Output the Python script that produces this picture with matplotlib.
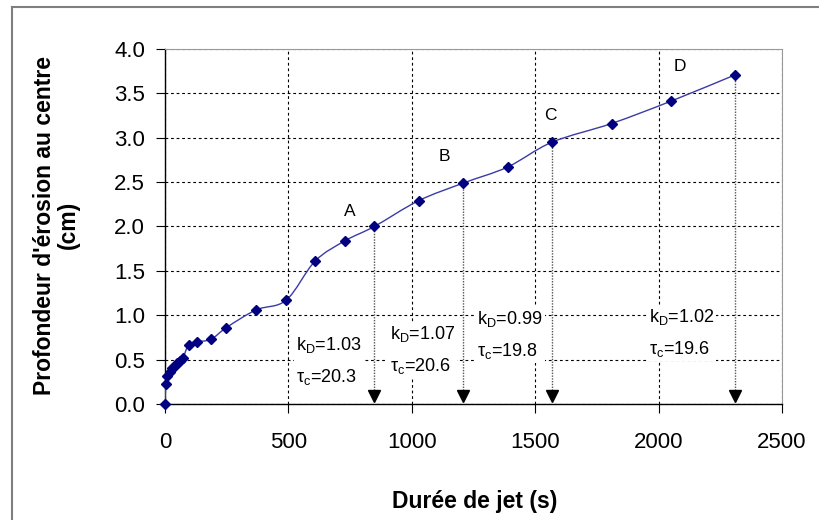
import matplotlib
matplotlib.use('Agg')
import matplotlib.pyplot as plt
from matplotlib.path import Path
from matplotlib.patches import PathPatch
from matplotlib.lines import Line2D
import numpy as np

plt.rcParams['font.family'] = ['Liberation Sans', 'DejaVu Sans']
plt.rcParams['mathtext.fontset'] = 'custom'
plt.rcParams['mathtext.rm'] = 'Liberation Sans'
plt.rcParams['mathtext.it'] = 'Liberation Sans'

# durée de jet (s) / profondeur d'érosion (cm)
duree = [0, 3, 9, 20, 30, 39, 50, 61, 73, 96, 128, 187, 248, 369, 491,
         608, 730, 848, 1027, 1209, 1388, 1568, 1809, 2048, 2311]
profondeur = [0, 0.22, 0.32, 0.36, 0.40, 0.43, 0.46, 0.49, 0.52, 0.67, 0.70,
              0.73, 0.86, 1.06, 1.17, 1.61, 1.84, 2.00, 2.29, 2.49, 2.67,
              2.95, 3.16, 3.41, 3.71]

# indices of the points marking the end of each test phase
fin_phase = [17, 19, 21, 24]
phase_lettres = ['A', 'B', 'C', 'D']
lettre_pos = [(750, 2.17), (1133, 2.79), (1561, 3.245), (2086, 3.80)]
kd = ['1.03', '1.07', '0.99', '1.02']
tau = ['20.3', '20.6', '19.8', '19.6']
param_pos = [(530, 0.48), (910, 0.61), (1266, 0.78), (1960, 0.80)]

xticks = [0, 500, 1000, 1500, 2000, 2500]
yticks = [0.0, 0.5, 1.0, 1.5, 2.0, 2.5, 3.0, 3.5, 4.0]

fig = plt.figure(figsize=(8.19, 5.20), dpi=100)
ax = fig.add_axes([0.2015, 0.2231, 0.7534, 0.6827])

ax.set_xlim(0, 2500)
ax.set_ylim(0, 4)
ax.set_xticks(xticks)
ax.set_yticks(yticks)
ax.set_yticklabels(['%.1f' % v for v in yticks])
ax.tick_params(labelsize=16, length=6.5, width=0.8, direction='out')
ax.tick_params(axis='x', pad=14)
ax.tick_params(axis='y', pad=8)
ax.grid(True, color='black', linestyle=(0, (2.5, 2.5)), linewidth=0.8)
ax.set_axisbelow(True)
for s in ['top', 'right']:
    ax.spines[s].set_color('#999999')
for s in ['left', 'bottom']:
    ax.spines[s].set_color('black')
    ax.spines[s].set_linewidth(1.0)

# smoothed line (Excel style bezier through the points)
x = np.array(duree, dtype=float)
y = np.array(profondeur, dtype=float)
verts = [(x[0], y[0])]
codes = [Path.MOVETO]
n = len(x)
for i in range(n - 1):
    p0 = np.array([x[max(i - 1, 0)], y[max(i - 1, 0)]])
    p1 = np.array([x[i], y[i]])
    p2 = np.array([x[i + 1], y[i + 1]])
    p3 = np.array([x[min(i + 2, n - 1)], y[min(i + 2, n - 1)]])
    c1 = p1 + (p2 - p0) / 6.0
    c2 = p2 - (p3 - p1) / 6.0
    verts += [tuple(c1), tuple(c2), tuple(p2)]
    codes += [Path.CURVE4] * 3
ax.add_patch(PathPatch(Path(verts, codes), facecolor='none',
                       edgecolor='#3a3aa8', linewidth=1.0, zorder=3))
ax.plot(duree, profondeur, linestyle='none', marker='D', markersize=5,
        color='#000080', zorder=4, clip_on=False)

# arrows down to the time axis
for i in fin_phase:
    ax.vlines(duree[i], 0.12, profondeur[i], colors='#555555',
              linestyles=(0, (1, 1)), linewidth=1.0, zorder=2)
    ax.plot(duree[i], 0.09, marker='v', markersize=8, color='black', zorder=3)

for lettre, (lx, ly) in zip(phase_lettres, lettre_pos):
    ax.text(lx, ly, lettre, fontsize=12.5, ha='center', va='center')

for k, t, (px, py) in zip(kd, tau, param_pos):
    ax.text(px, py, 'k$_\\mathregular{D}$=' + k + '\n\u03c4$_\\mathregular{c}$=' + t,
            fontsize=13, ha='left', va='center', linespacing=1.8,
            bbox=dict(facecolor='white', edgecolor='none', pad=1.5), zorder=2.5)

ax.set_xlabel('Durée de jet (s)', fontsize=16.5, fontweight='bold')
ax.xaxis.set_label_coords(0.502, -0.242)
ax.set_ylabel("Profondeur d'érosion au centre\n(cm)", fontsize=16.5,
              fontweight='bold', linespacing=1.05)
ax.yaxis.set_label_coords(-0.138, 0.504)

# outer chart frame (left and top edges visible)
fig.add_artist(Line2D([12 / 819, 12 / 819], [0, 1 - 7 / 520],
                      transform=fig.transFigure, color='#7f7f7f', linewidth=1.5))
fig.add_artist(Line2D([12 / 819, 1], [1 - 7 / 520, 1 - 7 / 520],
                      transform=fig.transFigure, color='#7f7f7f', linewidth=1.5))

fig.savefig('out.png', dpi=100)
